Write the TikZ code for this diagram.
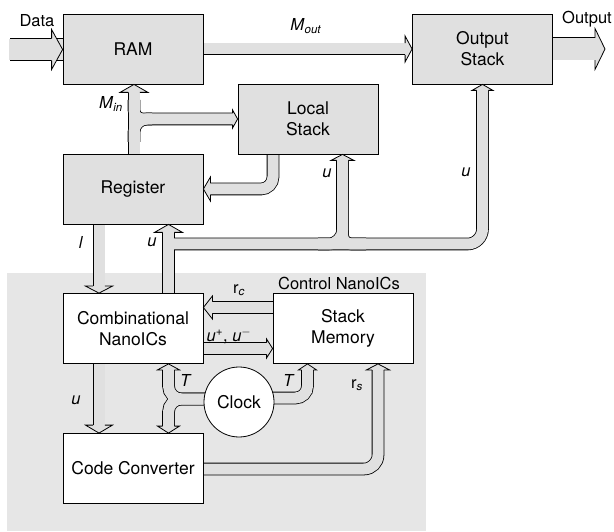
\documentclass[tikz,border=0pt]{standalone}
\usepackage{fontspec}
\setmainfont{TeX Gyre Heros}
\usetikzlibrary{calc}
\definecolor{boxgray}{HTML}{E0E0E0}
\definecolor{bggray}{HTML}{E6E6E6}
\definecolor{pipegray}{HTML}{E0E0E0}
\pgfdeclarelayer{back}
\pgfdeclarelayer{pipes}
\pgfsetlayers{back,pipes,main}
% #1 tip, #2 angle, #3 shaft half width, #4 head half width, #5 head length
\newcommand\fathead[5]{%
  \begin{scope}[shift={#1},rotate=#2]
    \fill[pipegray] (-#5,#3) -- (-#5,#4) -- (0,0) -- (-#5,-#4) -- (-#5,-#3) -- cycle;
    \draw[headline] (-#5,#3) -- (-#5,#4) -- (0,0) -- (-#5,-#4) -- (-#5,-#3);
  \end{scope}}
\newcommand\pipepaths[1]{%
  \draw[#1] (ram.east |- 0,49) -- (406,49);
  \draw[#1] (reg.north -| cMin) -- (134,92);
  \draw[#1,rounded corners=13pt] (134,142) -- (134,119) -- (233,119);
  \draw[#1,rounded corners=9pt] (134,100) -- (134,119) -- (152,119);
  \draw[#1,rounded corners=12pt] (lstack.south -| cLs) -- (273,189) -- (210,189);
  \draw[#1] (comb.north -| cU) -- (168.5,232);
  \draw[#1,rounded corners=15pt] (168.5,244) -- (482.5,244) -- (482.5,90);
  \draw[#1,rounded corners=14pt] (318,244) -- (342.5,244) -- (342.5,160);
  \draw[#1,rounded corners=9pt] (366,244) -- (342.5,244) -- (342.5,200);
  \draw[#1] (reg.south -| cI) -- (99,286);
  \draw[#1] (comb.south -| cI) -- (99,425);
  \draw[#1] (smem.west |- 0,307.5) -- (212,307.5);
  \draw[#1] (comb.east |- 0,348.5) -- (267,348.5);
  \draw[#1,rounded corners=13pt] (clock.center |- 0,399) -- (168.5,399) -- (168.5,370);
  \draw[#1,rounded corners=13pt] (clock.center |- 0,399) -- (168.5,399) -- (168.5,426);
  \draw[#1,rounded corners=12pt] (clock.center |- 0,398) -- (307.5,398) -- (307.5,370);
  \draw[#1,rounded corners=14pt] (conv.east |- 0,469) -- (378,469) -- (378,370);
}
\begin{document}
\begin{tikzpicture}[x=1pt,y=-1pt,
  box/.style={draw=black,line width=0.8pt,minimum width=140pt,minimum height=70pt,
              inner sep=0pt,align=center,font=\fontsize{17.5}{21}\selectfont},
  graybox/.style={box,fill=boxgray},
  whitebox/.style={box,fill=white},
  lbl/.style={inner sep=0pt,font=\fontsize{16.5}{20}\selectfont},
  headline/.style={draw=black,line width=0.8pt,line join=miter},
]
\useasboundingbox (0,0) rectangle (614,532);
\begin{pgfonlayer}{back}
  \fill[bggray] (7,273) rectangle (426,531);
\end{pgfonlayer}

% column coordinates
\coordinate (cMin) at (134,0);
\coordinate (cLs) at (273,0);
\coordinate (cU) at (168.5,0);
\coordinate (cI) at (99,0);

% boxes
\node[graybox] (ram) at (133,49) {RAM};
\node[graybox] (ostack) at (482.5,49) {Output\\Stack};
\node[graybox] (lstack) at (308,119) {Local\\Stack};
\node[graybox] (reg) at (133,189) {Register};
\node[whitebox] (comb) at (133,328.5) {Combinational\\NanoICs};
\node[whitebox] (smem) at (343,328.5) {Stack\\Memory};
\node[whitebox] (conv) at (133,468.5) {Code Converter};
\node[circle,draw=black,line width=0.8pt,fill=white,minimum size=70pt,inner sep=0pt,
      font=\fontsize{17.5}{21}\selectfont] (clock) at (239,402) {Clock};

% pipes
\begin{pgfonlayer}{pipes}
  \draw[line width=23pt,black] (10,49.5) -- (ram.west |- 0,49.5);
  \draw[line width=21.4pt,pipegray] (9,49.5) -- (ram.west |- 0,49.5);
  \draw[line width=23pt,black] (ostack.east |- 0,49) -- (595,49);
  \draw[line width=21.4pt,pipegray] (ostack.east |- 0,49) -- (595,49);
  \pipepaths{line width=12.6pt,black}
  \pipepaths{line width=11pt,pipegray}
\end{pgfonlayer}

% heads
\fathead{(ram.west |- 0,49.5)}{0}{11.1}{20}{11}
\fathead{(605,49)}{0}{11.1}{20.5}{10}
\fathead{(ostack.west |- 0,49)}{0}{5.9}{13}{7}
\fathead{(ram.south -| cMin)}{90}{5.9}{14}{8}
\fathead{(lstack.west |- 0,119)}{0}{5.9}{9}{5}
\fathead{(reg.east |- 0,189)}{180}{5.9}{12}{7}
\fathead{(reg.south -| cU)}{90}{5.9}{14}{8}
\fathead{(ostack.south)}{90}{5.9}{10.5}{6}
\fathead{(lstack.south -| 342.5,0)}{90}{5.9}{11.5}{6}
\fathead{(comb.north -| cI)}{-90}{5.9}{13.5}{7}
\fathead{(conv.north -| cI)}{-90}{5.9}{13.5}{8}
\fathead{(comb.east |- 0,307.5)}{180}{5.9}{11.5}{9}
\fathead{(smem.west |- 0,348.5)}{0}{5.9}{9.5}{6}
\fathead{(comb.south -| cU)}{90}{5.9}{11}{6}
\fathead{(conv.north -| cU)}{-90}{5.9}{11}{7}
\fathead{(smem.south -| 307.5,0)}{90}{5.9}{9}{6}
\fathead{(smem.south -| 378,0)}{90}{5.9}{11.5}{6}

% labels
\node[lbl] (tData) at (37,21) {Data};
\node[lbl] (tMout) at (306,26) {\textit{M}\textsubscript{\textit{out}}};
\node[lbl] (tOut) at (587,19) {Output};
\node[lbl] (tMin) at (111,104) {\textit{M}\textsubscript{\textit{in}}};
\node[lbl] (tu1) at (327,173) {\textit{u}};
\node[lbl] (tu2) at (466,172) {\textit{u}};
\node[lbl] (tu3) at (152,242) {\textit{u}};
\node[lbl] (tl) at (81,242) {\textit{l}};
\node[lbl] (trc) at (239,290) {r\textsubscript{\textit{c}}};
\node[lbl] (tctrl) at (339,283) {Control NanoICs};
\node[lbl] (tupm) at (229,336) {\textit{u}\textsuperscript{+}, \textit{u}\textsuperscript{$-$}};
\node[lbl] (tT1) at (186,380) {\textit{T}};
\node[lbl] (tT2) at (289,380) {\textit{T}};
\node[lbl] (trs) at (357,385) {r\textsubscript{\textit{s}}};
\node[lbl] (tu4) at (76,400) {\textit{u}};
\end{tikzpicture}
\end{document}
